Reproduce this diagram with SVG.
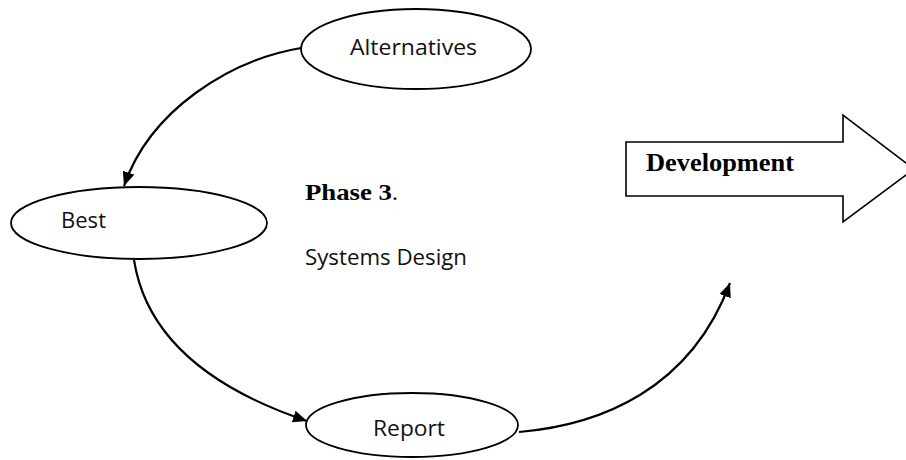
<svg xmlns="http://www.w3.org/2000/svg" width="906" height="460" viewBox="0 0 906 460">
  <defs>
    <marker id="arrow" viewBox="0 0 14 12" refX="14" refY="6" markerWidth="14" markerHeight="12" markerUnits="userSpaceOnUse" orient="auto">
      <path d="M0,0 L14,6 L0,12 Z" fill="#000"/>
    </marker>
    <style>
      .node { fill: #fff; stroke: #000; stroke-width: 1.8; }
      .label { font-family: "Open Sans", "Noto Sans", sans-serif; font-size: 22px; fill: #111; }
      .serif { font-family: "Liberation Serif", "Times New Roman", serif; fill: #000; }
      .link { fill: none; stroke: #000; stroke-width: 2.2; marker-end: url(#arrow); }
      .plain { fill: none; stroke: #000; stroke-width: 2.2; }
    </style>
  </defs>

  <rect width="906" height="460" fill="#fff"/>

  <!-- connectors between the cycle stages -->
  <g id="connectors">
    <path class="link" d="M301,48 C230,60 150,110 124,186"/>
    <path class="link" d="M134,260 C145,330 200,385 307,421"/>
    <path class="link" d="M519,432 C600,425 690,390 730,283"/>
  </g>

  <g id="alternatives">
    <ellipse class="node" cx="416" cy="49" rx="115" ry="40"/>
    <text class="label" x="350" y="55" textLength="127" lengthAdjust="spacingAndGlyphs">Alternatives</text>
  </g>

  <g id="best">
    <ellipse class="node" cx="139" cy="223" rx="128" ry="36"/>
    <text class="label" x="61" y="228" textLength="45" lengthAdjust="spacingAndGlyphs">Best</text>
  </g>

  <g id="report">
    <ellipse class="node" cx="412" cy="425" rx="106" ry="32"/>
    <text class="label" x="373" y="436" textLength="72" lengthAdjust="spacingAndGlyphs">Report</text>
  </g>

  <g id="phase">
    <text class="serif" x="305" y="200" font-size="24"><tspan font-weight="bold" textLength="87" lengthAdjust="spacingAndGlyphs">Phase 3</tspan><tspan>.</tspan></text>
    <text class="label" x="305" y="265" textLength="162" lengthAdjust="spacingAndGlyphs">Systems Design</text>
  </g>

  <g id="development">
    <polygon points="626,142 843,142 843,115 914,169 843,222 843,196 626,196" fill="#fff" stroke="#000" stroke-width="1.6"/>
    <text class="serif" x="646" y="171" font-size="26" font-weight="bold" textLength="148" lengthAdjust="spacingAndGlyphs">Development</text>
  </g>
</svg>
